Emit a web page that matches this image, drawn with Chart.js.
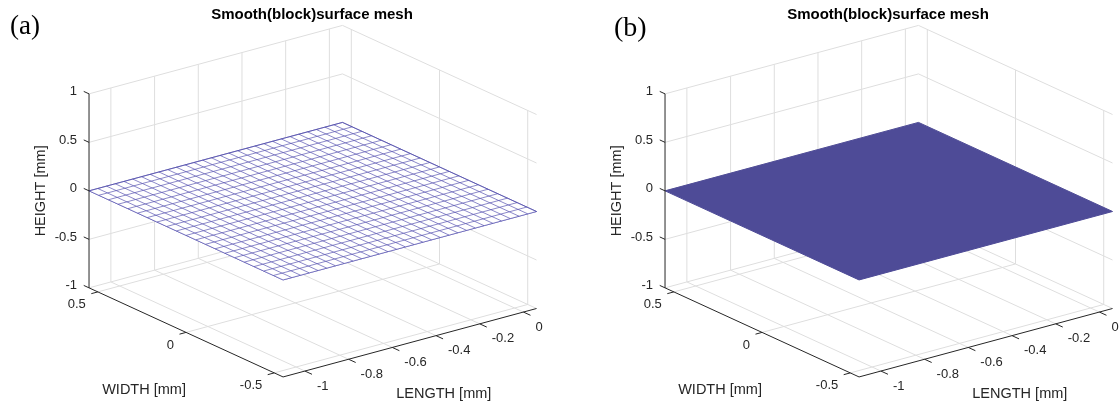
<!DOCTYPE html>
<html>
<head>
<meta charset="utf-8">
<title>Smooth(block)surface mesh</title>
<script src="https://cdn.jsdelivr.net/npm/chart.js@4/dist/chart.umd.min.js"></script>
<style>
  body { margin: 0; background: #ffffff; }
  #wrap { position: relative; width: 1120px; height: 411px; }
  canvas { position: absolute; top: 0; }
  #chartA { left: 0; }
  #chartB { left: 576px; }
</style>
</head>
<body>
<div id="wrap">
  <canvas id="chartA" width="576" height="411"></canvas>
  <canvas id="chartB" width="544" height="411"></canvas>
</div>
<script>
// ---- data ----
const panelLabels = ['(a)', '(b)'];
const titleText = 'Smooth(block)surface mesh';
const axisTitles = { length: 'LENGTH [mm]', width: 'WIDTH [mm]', height: 'HEIGHT [mm]' };

const lengthLimits = [-1.1, 0.06];
const widthLimits = [-0.55, 0.55];
const heightLimits = [-1, 1];

const lengthTicks = [-1, -0.8, -0.6, -0.4, -0.2, 0];
const widthTicks = [0.5, 0, -0.5];
const heightTicks = [1, 0.5, 0, -0.5, -1];
const lengthTickLabels = ['-1', '-0.8', '-0.6', '-0.4', '-0.2', '0'];
const widthTickLabels = ['0.5', '0', '-0.5'];
const heightTickLabels = ['1', '0.5', '0', '-0.5', '-1'];

// mesh stations of the measured block surface
const meshLength = [-1.1, -1.06, -1.02, -0.98, -0.94, -0.9, -0.86, -0.82, -0.78, -0.74,
  -0.7, -0.66, -0.62, -0.58, -0.54, -0.5, -0.46, -0.42, -0.38, -0.34,
  -0.3, -0.26, -0.22, -0.18, -0.14, -0.1, -0.06, -0.02, 0.02, 0.06];
const meshWidth = [-0.55, -0.495, -0.44, -0.385, -0.33, -0.275, -0.22, -0.165, -0.11, -0.055,
  0, 0.055, 0.11, 0.165, 0.22, 0.275, 0.33, 0.385, 0.44, 0.495, 0.55];
// height profile along the length (flat block, same across the width)
const meshHeight = [0, 0, 0, 0, 0, 0, 0, 0, 0, 0,
  0, 0, 0, 0, 0, 0, 0, 0, 0, 0,
  0, 0, 0, 0, 0, 0, 0, 0, 0, 0];

// ---- 3D view (orthographic, az/el like the matlab default view) ----
const ORIGIN = { x: 426.4, y: 170.5 };
const E_L = { x: 218.5, y: -59 };
const E_W = { x: -176.4, y: -81 };
const E_Z = 97;

function project(l, w, h) {
  return { x: ORIGIN.x + l * E_L.x + w * E_W.x, y: ORIGIN.y + l * E_L.y + w * E_W.y - h * E_Z };
}

function buildDatasets(solid) {
  const [lMin, lMax] = lengthLimits, [wMin, wMax] = widthLimits, [hMin, hMax] = heightLimits;

  // grid on floor and the two back walls
  const grid = [];
  const seg = (a, b) => { grid.push(a, b, { x: b.x, y: null }); };
  lengthTicks.forEach(v => {
    seg(project(v, wMin, hMin), project(v, wMax, hMin));
    seg(project(v, wMax, hMin), project(v, wMax, hMax));
  });
  widthTicks.forEach(v => {
    seg(project(lMin, v, hMin), project(lMax, v, hMin));
    seg(project(lMax, v, hMin), project(lMax, v, hMax));
  });
  heightTicks.forEach(v => {
    seg(project(lMin, wMax, v), project(lMax, wMax, v));
    seg(project(lMax, wMin, v), project(lMax, wMax, v));
  });

  // axis lines + tick marks
  const axes = [];
  const aseg = (a, b) => { axes.push(a, b, { x: b.x, y: null }); };
  aseg(project(lMin, wMax, hMin), project(lMin, wMax, hMax));
  aseg(project(lMin, wMax, hMin), project(lMin, wMin, hMin));
  aseg(project(lMin, wMin, hMin), project(lMax, wMin, hMin));
  heightTicks.forEach(v => aseg(project(lMin, wMax, v), project(lMin, wMax + 0.03, v)));
  widthTicks.forEach(v => aseg(project(lMin, v, hMin), project(lMin - 0.03, v, hMin)));
  lengthTicks.forEach(v => aseg(project(v, wMin, hMin), project(v, wMin - 0.04, hMin)));

  // surface outline (top / bottom edge of the projected patch)
  const n = meshLength.length - 1, m = meshWidth.length - 1;
  const upper = [project(meshLength[0], meshWidth[m], meshHeight[0]),
                 project(meshLength[n], meshWidth[m], meshHeight[n]),
                 project(meshLength[n], meshWidth[0], meshHeight[n])];
  const lower = [project(meshLength[0], meshWidth[m], meshHeight[0]),
                 project(meshLength[0], meshWidth[0], meshHeight[0]),
                 project(meshLength[n], meshWidth[0], meshHeight[n])];

  // mesh lines
  const mesh = [];
  meshLength.forEach((l, i) => {
    meshWidth.forEach(w => mesh.push(project(l, w, meshHeight[i])));
    mesh.push({ x: 0, y: null });
  });
  meshWidth.forEach(w => {
    meshLength.forEach((l, i) => mesh.push(project(l, w, meshHeight[i])));
    mesh.push({ x: 0, y: null });
  });

  const surfColor = '#4E4B97';
  const meshColor = 'rgba(72, 68, 170, 0.8)';
  const sets = [
    { label: 'grid', data: grid, borderColor: '#DEDEDE', borderWidth: 1, order: 5 },
    { label: 'surface top', data: upper, borderColor: solid ? surfColor : meshColor,
      borderWidth: solid ? 1 : 0.8, backgroundColor: solid ? surfColor : '#ffffff', fill: '+1', order: 3 },
    { label: 'surface bottom', data: lower, borderColor: solid ? surfColor : meshColor,
      borderWidth: solid ? 1 : 0.8, order: 3 },
    { label: 'axes', data: axes, borderColor: '#262626', borderWidth: 1, order: 1 }
  ];
  if (!solid) {
    sets.push({ label: 'mesh', data: mesh, borderColor: meshColor, borderWidth: 0.8, order: 2 });
  }
  return sets;
}

const textPlugin = {
  id: 'axesText',
  afterDraw(chart, args, opts) {
    const ctx = chart.ctx;
    const sx = chart.scales.x, sy = chart.scales.y;
    const px = p => ({ x: sx.getPixelForValue(p.x), y: sy.getPixelForValue(p.y) });
    const [lMin, lMax] = lengthLimits, [wMin, wMax] = widthLimits, [hMin] = heightLimits;
    const sans = '"Liberation Sans", Arial, sans-serif';

    ctx.save();
    ctx.fillStyle = '#262626';
    ctx.font = '13px ' + sans;

    ctx.textAlign = 'right';
    ctx.textBaseline = 'middle';
    heightTicks.forEach((v, i) => {
      const p = px(project(lMin, wMax, v));
      ctx.fillText(heightTickLabels[i], p.x - 12, p.y - 2);
    });
    widthTicks.forEach((v, i) => {
      const p = px(project(lMin, v, hMin));
      ctx.fillText(widthTickLabels[i], p.x - 12, p.y + 13);
    });
    ctx.textAlign = 'left';
    lengthTicks.forEach((v, i) => {
      const p = px(project(v, wMin, hMin));
      ctx.fillText(lengthTickLabels[i], p.x + 12, p.y + 15);
    });

    ctx.font = '14.5px ' + sans;
    ctx.textAlign = 'center';
    let p = px(project(lMin, 0, hMin));
    ctx.fillText(axisTitles.width, p.x - 42, p.y + 58);
    p = px(project((lMin + lMax) / 2, wMin, hMin));
    ctx.fillText(axisTitles.length, p.x + 34, p.y + 51);
    p = px(project(lMin, wMax, 0));
    ctx.save();
    ctx.translate(p.x - 48, p.y);
    ctx.rotate(-Math.PI / 2);
    ctx.fillText(axisTitles.height, 0, 0);
    ctx.restore();

    ctx.fillStyle = '#000000';
    ctx.font = 'bold 15px ' + sans;
    ctx.fillText(titleText, sx.getPixelForValue(312), sy.getPixelForValue(15));

    ctx.textAlign = 'left';
    ctx.font = opts.labelSize + 'px "Liberation Serif", "Times New Roman", serif';
    ctx.fillText(opts.label, sx.getPixelForValue(opts.labelX), sy.getPixelForValue(opts.labelY));
    ctx.restore();
  }
};

function makeChart(id, width, solid, label, labelX, labelY, labelSize) {
  return new Chart(document.getElementById(id), {
    type: 'line',
    data: { datasets: buildDatasets(solid) },
    options: {
      responsive: false,
      animation: false,
      layout: { padding: 0 },
      elements: { point: { radius: 0, hitRadius: 0 }, line: { tension: 0 } },
      scales: {
        x: { type: 'linear', display: false, min: 0, max: width },
        y: { type: 'linear', display: false, min: 0, max: 411, reverse: true }
      },
      plugins: {
        legend: { display: false },
        tooltip: { enabled: false },
        axesText: { label: label, labelX: labelX, labelY: labelY, labelSize: labelSize }
      }
    },
    plugins: [textPlugin]
  });
}

makeChart('chartA', 576, false, panelLabels[0], 10, 27, 27);
makeChart('chartB', 544, true, panelLabels[1], 38, 29, 28);
</script>
</body>
</html>
